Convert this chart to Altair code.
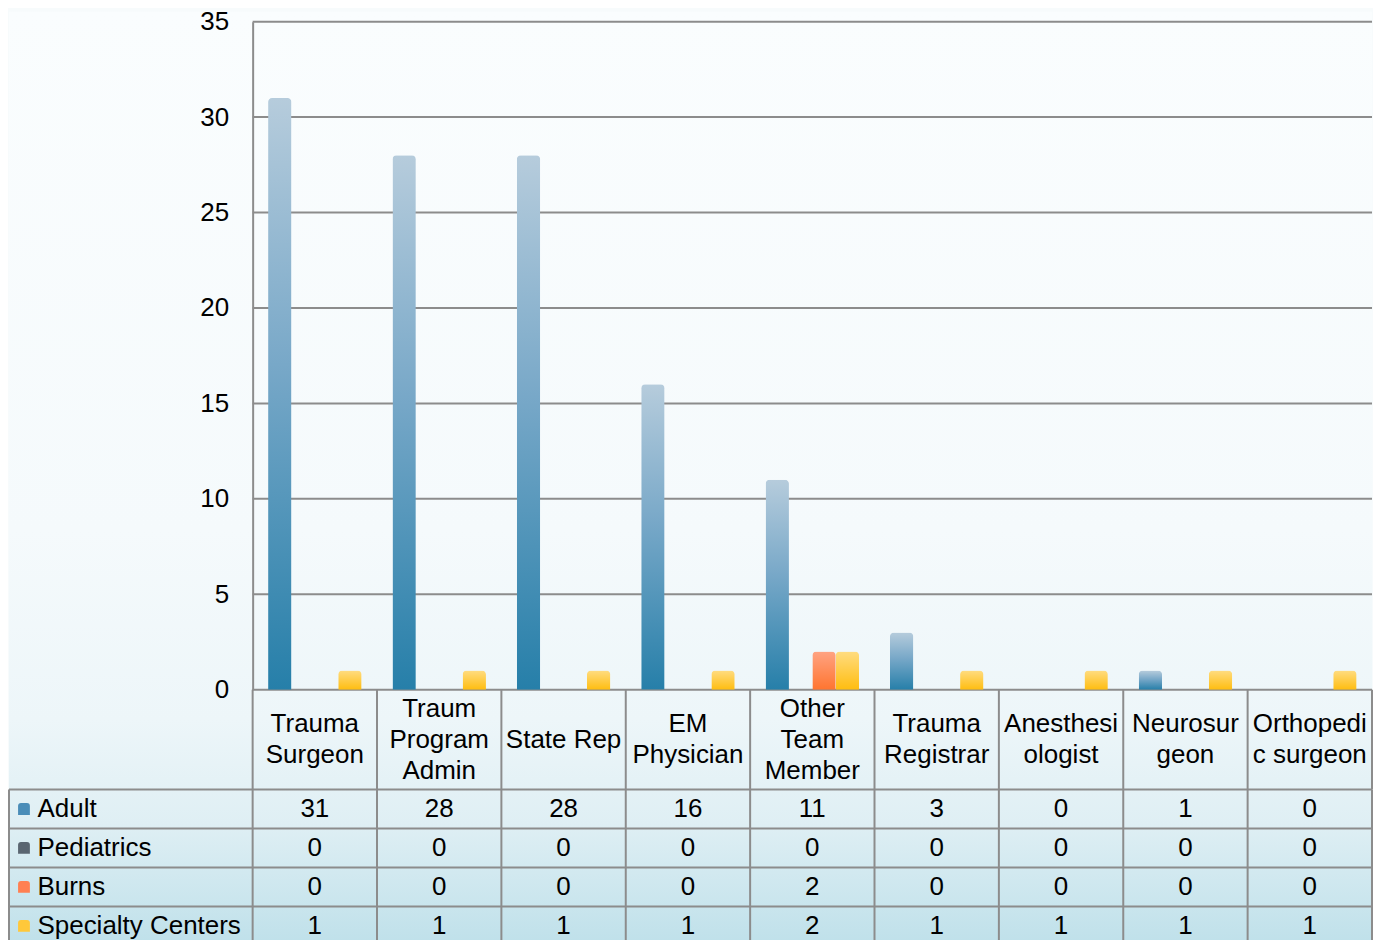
import altair as alt
import pandas as pd

# ---------------- data ----------------
categories = ["Trauma Surgeon", "Traum Program Admin", "State Rep", "EM Physician",
              "Other Team Member", "Trauma Registrar", "Anesthesiologist",
              "Neurosurgeon", "Orthopedic surgeon"]
category_labels = ["Trauma\nSurgeon", "Traum\nProgram\nAdmin", "State Rep", "EM\nPhysician",
                   "Other\nTeam\nMember", "Trauma\nRegistrar", "Anesthesi\nologist",
                   "Neurosur\ngeon", "Orthopedi\nc surgeon"]
series = ["Adult", "Pediatrics", "Burns", "Specialty Centers"]
adult = [31, 28, 28, 16, 11, 3, 0, 1, 0]
pediatrics = [0, 0, 0, 0, 0, 0, 0, 0, 0]
burns = [0, 0, 0, 0, 2, 0, 0, 0, 0]
specialty = [1, 1, 1, 1, 2, 1, 1, 1, 1]
y_ticks = [0, 5, 10, 15, 20, 25, 30, 35]

values_by_series = {"Adult": adult, "Pediatrics": pediatrics,
                    "Burns": burns, "Specialty Centers": specialty}
rows = []
for s in series:
    for c, v in zip(categories, values_by_series[s]):
        rows.append({"cat": c, "series": s, "value": v})
df = pd.DataFrame(rows)
hdr_df = pd.DataFrame({"cat": categories, "label": category_labels})
ser_df = pd.DataFrame({"series": series})
tick_df = pd.DataFrame({"value": y_ticks})
one = pd.DataFrame({"k": [0]})

# ---------------- style ----------------
W = 1121
H = 669
HDR_H = 100
ROWS_H = 156
LEFT = -244
FONT = "Liberation Sans"
LINE = "#8c8c8c"
FS = 26
LH = 31


def vgrad(stops):
    return alt.Gradient(gradient="linear", x1=0, x2=0, y1=0, y2=1,
                        stops=[alt.GradientStop(offset=o, color=c) for o, c in stops])


bar_fills = {
    "Adult": vgrad([(0, "#b6ccdc"), (0.45, "#78a8c8"), (1, "#267fa9")]),
    "Pediatrics": vgrad([(0, "#9aa6b0"), (1, "#4f5d69")]),
    "Burns": vgrad([(0, "#ffa382"), (1, "#ff7530")]),
    "Specialty Centers": vgrad([(0, "#ffdc80"), (1, "#ffbd10")]),
}
marker_colors = ["#4a8db8", "#5a6671", "#ff8052", "#ffc83a"]
bg_fill = vgrad([(0, "#fafdfe"), (0.55, "#f5fafc"), (0.75, "#edf6f9"),
                 (0.86, "#dfeff4"), (1, "#bcdfe9")])
marker_shape = "M-1,1 L-1,-0.5 Q-1,-1 -0.5,-1 L0.5,-1 Q1,-1 1,-0.5 L1,1 Z"

cat_scale = alt.Scale(domain=categories, paddingInner=0, paddingOuter=0)

# ---------------- bar chart ----------------
x_enc = alt.X("cat:N", sort=categories, scale=cat_scale, axis=None)
xoff = alt.XOffset("series:N", sort=series,
                   scale=alt.Scale(domain=series, paddingInner=0, paddingOuter=0.66))
y_enc = alt.Y("value:Q",
              scale=alt.Scale(domain=[0, 35], nice=False, zero=True),
              axis=alt.Axis(values=y_ticks, grid=False,
                            domain=True, domainColor=LINE, domainWidth=2,
                            ticks=False, labelFont=FONT, labelFontSize=FS,
                            labelColor="black", labelPadding=24, title=None,
                            zindex=1))

bg = alt.Chart(one).mark_rect(fill=bg_fill).encode(
    x=alt.value(LEFT), x2=alt.value(W), y=alt.value(-10), y2=alt.value(935))

grid = alt.Chart(tick_df).mark_rule(color=LINE, strokeWidth=2).encode(
    y=y_enc, x=alt.value(0), x2=alt.value(W))

bar_layers = []
for s in series:
    bar_layers.append(
        alt.Chart(df)
        .transform_filter((alt.datum.series == s) & (alt.datum.value > 0))
        .mark_bar(fill=bar_fills[s], cornerRadiusTopLeft=4, cornerRadiusTopRight=4)
        .encode(x=x_enc, xOffset=xoff, y=y_enc)
    )

bars = alt.layer(bg, grid, *bar_layers).properties(width=W, height=H)

# ---------------- header row (category names) ----------------
x_rule = alt.X("cat:N", sort=categories, scale=cat_scale, axis=None, bandPosition=0)
hdr_layers = []
for n_lines in (1, 2, 3):
    hdr_layers.append(
        alt.Chart(hdr_df)
        .transform_filter("length(split(datum.label, '\\n')) == %d" % n_lines)
        .mark_text(font=FONT, fontSize=FS, lineHeight=LH, lineBreak="\n",
                   color="black", baseline="middle")
        .encode(x=x_enc, y=alt.value(HDR_H / 2 - (n_lines - 1) * LH / 2),
                text="label:N")
    )
hdr_v = alt.Chart(hdr_df).mark_rule(color=LINE, strokeWidth=2).encode(
    x=x_rule, y=alt.value(0), y2=alt.value(HDR_H))
hdr_r = alt.Chart(one).mark_rule(color=LINE, strokeWidth=2).encode(
    x=alt.value(W), y=alt.value(0), y2=alt.value(HDR_H))
header = alt.layer(hdr_v, hdr_r, *hdr_layers).properties(width=W, height=HDR_H)

# ---------------- data rows ----------------
ser_scale = alt.Scale(domain=series, paddingInner=0, paddingOuter=0)
row_axis = alt.Axis(labelAlign="left", labelPadding=216, ticks=False, tickSize=0,
                    domain=False, grid=False, labelFont=FONT, labelFontSize=FS,
                    labelColor="black", title=None, labelBaseline="middle",
                    labelLimit=0)
y_rows = alt.Y("series:N", sort=series, scale=ser_scale, axis=row_axis)
y_rows_edge = alt.Y("series:N", sort=series, scale=ser_scale, axis=row_axis,
                    bandPosition=0)

row_text = alt.Chart(df).mark_text(font=FONT, fontSize=FS, color="black").encode(
    x=x_enc, y=y_rows, text="value:Q")
row_h = alt.Chart(ser_df).mark_rule(color=LINE, strokeWidth=2).encode(
    y=y_rows_edge, x=alt.value(LEFT), x2=alt.value(W))
row_bottom = alt.Chart(one).mark_rule(color=LINE, strokeWidth=2).encode(
    y=alt.value(ROWS_H), x=alt.value(LEFT), x2=alt.value(W))
row_v = alt.Chart(hdr_df).mark_rule(color=LINE, strokeWidth=2).encode(
    x=x_rule, y=alt.value(0), y2=alt.value(ROWS_H))
row_l = alt.Chart(one).mark_rule(color=LINE, strokeWidth=2).encode(
    x=alt.value(LEFT), y=alt.value(0), y2=alt.value(ROWS_H))
row_r = alt.Chart(one).mark_rule(color=LINE, strokeWidth=2).encode(
    x=alt.value(W), y=alt.value(0), y2=alt.value(ROWS_H))
markers = alt.Chart(ser_df).mark_point(shape=marker_shape, filled=True, size=140,
                                       opacity=1).encode(
    x=alt.value(-229), y=y_rows,
    color=alt.Color("series:N", scale=alt.Scale(domain=series, range=marker_colors),
                    legend=None))
rows_chart = alt.layer(row_h, row_bottom, row_v, row_l, row_r, markers, row_text
                       ).properties(width=W, height=ROWS_H)

chart = (
    alt.vconcat(bars, header, rows_chart, spacing=0, bounds="flush")
    .configure_view(stroke=None)
    .properties(padding=0, background="#f7fbfc")
)

chart.save("out.html", embed_options={"renderer": "svg", "actions": False})
